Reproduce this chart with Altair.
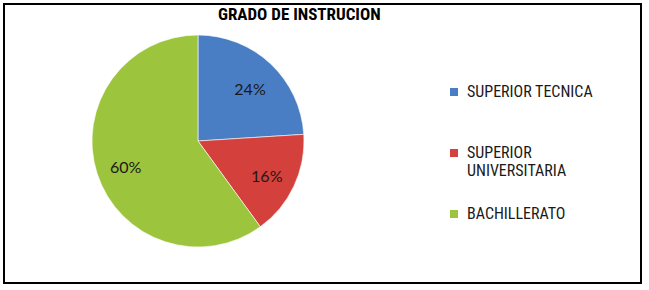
import altair as alt
import pandas as pd

categories = ["SUPERIOR TECNICA", "SUPERIOR UNIVERSITARIA", "BACHILLERATO"]
values = [24, 16, 60]
labels = ["24%", "16%", "60%"]
colors = ["#4A7EC4", "#D4403C", "#9CC43C"]

df = pd.DataFrame({"cat": categories, "val": values, "lab": labels, "ord": [0, 1, 2]})

FONT = "Roboto Condensed, Lato"

base = alt.Chart(df).encode(
    theta=alt.Theta("val:Q", stack=True),
    order=alt.Order("ord:Q"),
)

pie = base.mark_arc(outerRadius=106, stroke="#ffffff", strokeWidth=0.6).encode(
    x=alt.value(194),
    y=alt.value(137),
    color=alt.Color(
        "cat:N",
        scale=alt.Scale(domain=categories, range=colors),
        sort=categories,
        legend=alt.Legend(
            title=None,
            orient="none",
            legendX=442,
            legendY=80,
            symbolType="square",
            symbolSize=64,
            symbolStrokeWidth=0,
            labelFont=FONT,
            labelFontSize=16,
            labelColor="#1a1a1a",
            labelLimit=300,
            labelOffset=5,
            rowPadding=27,
            labelExpr="datum.label == 'SUPERIOR UNIVERSITARIA' ? ['SUPERIOR', 'UNIVERSITARIA'] : (datum.label == 'SUPERIOR TECNICA' ? ['SUPERIOR TECNICA', ''] : datum.label)",
        ),
    ),
)

text = base.mark_text(radius=76, dy=4, font="Lato", fontSize=16, color="#1a1a1a").encode(
    x=alt.value(194),
    y=alt.value(137),
    text="lab:N",
)

chart = (
    alt.layer(pie, text)
    .properties(
        width=637,
        height=279,
        padding={"left": 4, "top": 4, "right": 8, "bottom": 7},
        autosize=alt.AutoSizeParams(type="none"),
        title=alt.TitleParams(
            "GRADO DE INSTRUCION",
            font=FONT,
            fontSize=17,
            fontWeight="bold",
            color="#000000",
            anchor="start",
            dx=214,
            offset=-20,
        ),
        background="#ffffff",
    )
    .configure_view(stroke="#000000", strokeWidth=2)
)

chart.save("out.html", embed_options={"renderer": "svg", "actions": False})
